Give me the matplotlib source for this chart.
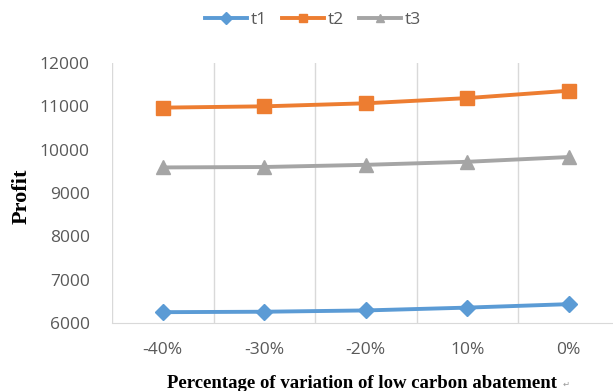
import matplotlib.pyplot as plt
from matplotlib.lines import Line2D

categories = ['-40%', '-30%', '-20%', '10%', '0%']
t1 = [6250, 6260, 6290, 6355, 6435]
t2 = [10970, 11000, 11070, 11190, 11360]
t3 = [9590, 9600, 9650, 9720, 9830]
yticks = [6000, 7000, 8000, 9000, 10000, 11000, 12000]

colors = ['#5B9BD5', '#ED7D31', '#A5A5A5']
markers = ['D', 's', '^']

W, H = 613, 391
fig = plt.figure(figsize=(W / 100, H / 100), dpi=100)
ax = fig.add_axes([112 / W, 1 - 323 / H, (W - 112) / W, (323 - 63) / H])

x = list(range(len(categories)))
ax.plot(x, t1, color=colors[0], lw=2.8, marker='D', ms=8)
ax.plot(x, t2, color=colors[1], lw=2.8, marker='s', ms=9.5)
ax.plot(x, t3, color=colors[2], lw=2.8, marker='^', ms=10)

ax.set_xlim(-0.5, -0.5 + (W - 112) / 101.5)
ax.set_ylim(6000, 12000)
ax.set_yticks(yticks)
ax.set_xticks(x)
ax.set_xticklabels(categories)

# category boundary gridlines
for b in [i - 0.5 for i in range(len(categories) + 1)]:
    ax.axvline(b, color='#D9D9D9', lw=1, zorder=0)

for s in ['top', 'right', 'left']:
    ax.spines[s].set_visible(False)
ax.spines['bottom'].set_color('#D9D9D9')
ax.tick_params(length=0, colors='#595959', labelsize=12.5)
for lab in ax.get_yticklabels() + ax.get_xticklabels():
    lab.set_fontfamily('Open Sans')
ax.tick_params(axis='y', pad=16)
ax.tick_params(axis='x', pad=14)

fig.text(22 / W, 1 - 196 / H, 'Profit', rotation=90, fontfamily='Liberation Serif',
         fontweight='bold', fontsize=16, ha='center', va='center')
fig.text(362 / W, 1 - 383 / H, 'Percentage of variation of low carbon abatement',
         fontfamily='Liberation Serif', fontweight='bold', fontsize=13.5, ha='center', va='center')
fig.text(566 / W, 1 - 384 / H, '\u21b5', fontsize=6, color='#999999', ha='center', va='center')

handles = [Line2D([], [], color=c, lw=2.8, marker=m, ms=6) for c, m in zip(colors, markers)]
leg = fig.legend(handles, ['t1', 't2', 't3'], loc='center', bbox_to_anchor=(313 / W, 1 - 20 / H),
                 ncol=3, frameon=False, handlelength=2.4, columnspacing=0.9, handletextpad=0.2,
                 prop={'family': 'Open Sans', 'size': 12.5})
for t in leg.get_texts():
    t.set_color('#595959')

fig.savefig('out.png', dpi=100)
